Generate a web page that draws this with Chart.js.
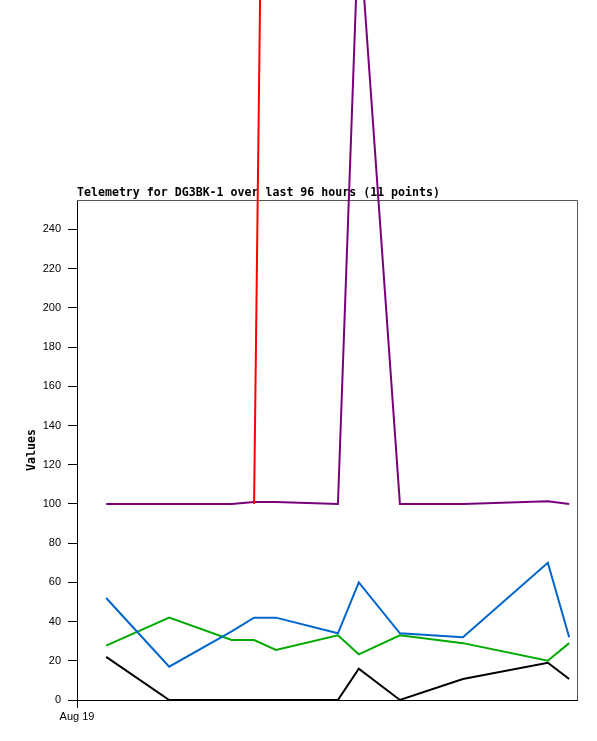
<!DOCTYPE html>
<html>
<head>
<meta charset="utf-8">
<script src="https://cdn.jsdelivr.net/npm/chart.js@4/dist/chart.umd.min.js"></script>
<style>
  html, body { margin: 0; padding: 0; background: #fff; }
  canvas { display: block; }
</style>
</head>
<body>
<canvas id="telemetry" width="597" height="741"></canvas>
<script>
// hours since Aug 19 00:00
var hours = [5.6, 17.7, 29.7, 34.0, 38.2, 50.1, 54.1, 62.0, 74.1, 90.4, 94.5];

var seriesRed    = [null, null, null, 100, 1040, 1040, 1040, 1040, 1040, 1040, 1040];
var seriesPurple = [100, 100, 100, 101, 101, 100, 397, 100, 100, 101.3, 100];
var seriesBlue   = [52, 17, 35, 42, 42, 34, 60, 34, 32, 70, 32];
var seriesGreen  = [27.7, 42, 30.6, 30.6, 25.5, 33, 23.3, 33, 29, 20, 29];
var seriesBlack  = [22, 0, 0, 0, 0, 0, 16, 0, 10.7, 19, 10.7];

var yTicks = [0, 20, 40, 60, 80, 100, 120, 140, 160, 180, 200, 220, 240];
var xTickLabels = ['Aug 19'];
var xTickValues = [0];

var chartTitle = 'Telemetry for DG3BK-1 over last 96 hours (11 points)';

function toPoints( values ) {
	return values.map( function ( v, i ) {
		return { x: hours[i], y: v };
	} );
}

function makeSet( values, color ) {
	return {
		data: toPoints( values ),
		borderColor: color,
		backgroundColor: color,
		borderWidth: 2,
		pointRadius: 0,
		tension: 0,
		spanGaps: false,
		clip: false,
	};
}

var frame = {
	id: 'frame',
	beforeDatasetsDraw: function ( chart ) {
		var a = chart.chartArea;
		var ctx = chart.ctx;
		ctx.save();
		ctx.strokeStyle = '#555555';
		ctx.lineWidth = 1;
		ctx.beginPath();
		ctx.moveTo( a.left, a.top + 0.5 );
		ctx.lineTo( a.right + 0.5, a.top + 0.5 );
		ctx.lineTo( a.right + 0.5, a.bottom );
		ctx.stroke();
		ctx.fillStyle = '#000';
		ctx.font = 'bold 11.6px "DejaVu Sans Mono", monospace';
		ctx.textBaseline = 'alphabetic';
		ctx.textAlign = 'left';
		ctx.fillText( chartTitle, a.left, a.top - 4 );
		ctx.restore();
	},
};

new Chart( document.getElementById( 'telemetry' ), {
	type: 'line',
	data: {
		datasets: [
			makeSet( seriesRed, '#ff0000' ),
			makeSet( seriesPurple, '#7a007a' ),
			makeSet( seriesBlue, '#0066cc' ),
			makeSet( seriesGreen, '#00aa00' ),
			makeSet( seriesBlack, '#000000' ),
		],
	},
	options: {
		responsive: false,
		animation: false,
		devicePixelRatio: 1,
		layout: {
			padding: { top: 200, right: 20, left: 0, bottom: 0 },
		},
		plugins: {
			legend: { display: false },
			title: { display: false },
			tooltip: { enabled: false },
		},
		scales: {
			x: {
				type: 'linear',
				min: 0,
				max: 96,
				afterBuildTicks: function ( axis ) {
					axis.ticks = xTickValues.map( function ( v ) {
						return { value: v };
					} );
				},
				afterFit: function ( axis ) {
					axis.height = 41;
				},
				ticks: {
					color: '#000',
					padding: 2,
					maxRotation: 0,
					font: { family: '"Liberation Sans", Arial, sans-serif', size: 11 },
					callback: function ( v ) {
						var i = xTickValues.indexOf( v );
						return i >= 0 ? xTickLabels[i] : '';
					},
				},
				grid: {
					drawOnChartArea: false,
					drawTicks: true,
					tickLength: 8,
					color: '#000',
				},
				border: { display: true, color: '#000', width: 1 },
			},
			y: {
				min: 0,
				max: 255,
				afterBuildTicks: function ( axis ) {
					axis.ticks = yTicks.map( function ( v ) {
						return { value: v };
					} );
				},
				afterFit: function ( axis ) {
					axis.width = 77;
				},
				ticks: {
					color: '#000',
					padding: 7,
					font: { family: '"Liberation Sans", Arial, sans-serif', size: 11 },
				},
				grid: {
					drawOnChartArea: false,
					drawTicks: true,
					tickLength: 9,
					color: '#000',
				},
				border: { display: true, color: '#000', width: 1 },
				title: {
					display: true,
					text: 'Values',
					color: '#000',
					padding: { top: 25, bottom: 0 },
					font: { family: '"DejaVu Sans Mono", monospace', size: 11.6, weight: 'bold' },
				},
			},
		},
	},
	plugins: [ frame ],
} );
</script>
</body>
</html>
